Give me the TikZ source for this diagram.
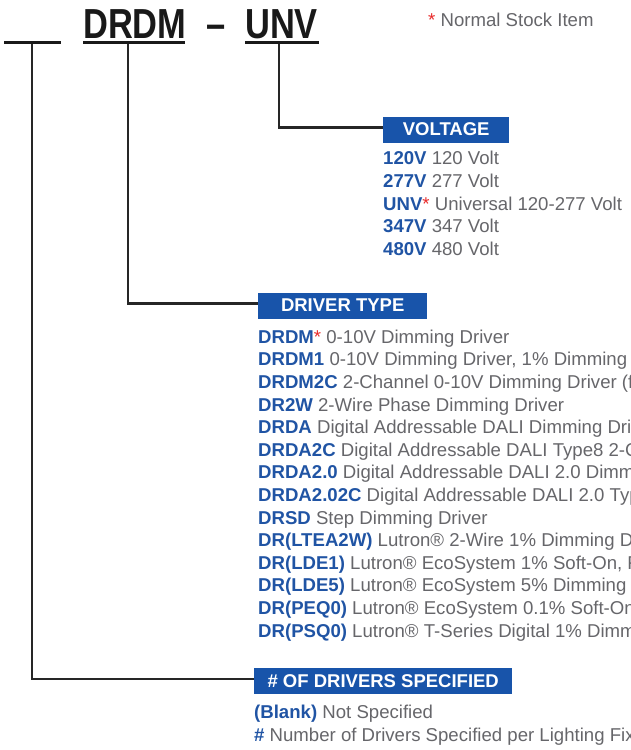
\documentclass[tikz,border=0pt]{standalone}
\usepackage{fontspec}
\setmainfont{Liberation Sans}
\usetikzlibrary{positioning}

\definecolor{hdrblue}{RGB}{24,84,170}
\definecolor{codeblue}{RGB}{32,84,164}
\definecolor{descgray}{RGB}{102,102,106}
\definecolor{stockred}{RGB}{232,40,40}
\newcommand{\code}[1]{\textcolor{codeblue}{\bfseries #1}}
\newcommand{\stock}{\textcolor{stockred}{*}}

\begin{document}
\begin{tikzpicture}[x=1pt, y=-1pt, font=\fontsize{18.6}{22.6}\selectfont]
    % Styles
    \tikzstyle{codetop} = [inner sep=0, anchor=base west, font=\fontsize{42}{42}\selectfont\bfseries, text=black!90]
    \tikzstyle{codebar} = [fill=black!90, inner sep=0, minimum height=3pt]
    \tikzstyle{conn} = [draw=black!85, line width=2.4pt]
    \tikzstyle{hdr} = [fill=hdrblue, text=white, font=\fontsize{18.5}{18.5}\selectfont\bfseries, minimum height=26pt, inner sep=0, anchor=west]
    \tikzstyle{optlist} = [inner sep=0, align=left, text=descgray]

    \useasboundingbox (0,0) rectangle (630,750);
    \clip (0,0) rectangle (630,750);

    % Catalog code
    \node [codetop] (drdm) at (83,38) {\scalebox{0.82}[1]{DRDM}};
    \node [codetop, anchor=base] (dash) at (216,38) {\scalebox{0.82}[1]{\textendash}};
    \node [codetop] (unv) at (245,38) {\scalebox{0.82}[1]{UNV}};
    \node [text=descgray, anchor=west, inner sep=0] (note) at (428,20) {\stock\ Normal Stock Item};

    % Underlines
    \node [codebar, minimum width=57pt] (blankbar) at (32.5,42) {};
    \node [codebar, minimum width=102pt] (drdmbar) at (134,42) {};
    \node [codebar, minimum width=74pt] (unvbar) at (281.5,42) {};

    % Headers
    \node [hdr, minimum width=126pt] (volthdr) at (383,129.5) {VOLTAGE};
    \node [hdr, minimum width=169pt] (drvhdr) at (258,305.5) {DRIVER TYPE};
    \node [hdr, minimum width=258pt] (numhdr) at (254,681) {\# OF DRIVERS SPECIFIED};

    % Options
    \node [optlist, below=8.5pt of volthdr.south west, anchor=north west] (voltlist) {%
        \code{120V} 120 Volt\\
        \code{277V} 277 Volt\\
        \code{UNV}\stock\ Universal 120-277 Volt\\
        \code{347V} 347 Volt\\
        \code{480V} 480 Volt};
    \node [optlist, below=11pt of drvhdr.south west, anchor=north west] (drvlist) {%
        \code{DRDM}\stock\ 0-10V Dimming Driver\\
        \code{DRDM1} 0-10V Dimming Driver, 1\% Dimming\\
        \code{DRDM2C} 2-Channel 0-10V Dimming Driver (f\\
        \code{DR2W} 2-Wire Phase Dimming Driver\\
        \code{DRDA} Digital Addressable DALI Dimming Dri\\
        \code{DRDA2C} Digital Addressable DALI Type8 2-C\\
        \code{DRDA2.0} Digital Addressable DALI 2.0 Dimm\\
        \code{DRDA2.02C} Digital Addressable DALI 2.0 Typ\\
        \code{DRSD} Step Dimming Driver\\
        \code{DR(LTEA2W)} Lutron® 2-Wire 1\% Dimming D\\
        \code{DR(LDE1)} Lutron® EcoSystem 1\% Soft-On, F\\
        \code{DR(LDE5)} Lutron® EcoSystem 5\% Dimming\\
        \code{DR(PEQ0)} Lutron® EcoSystem 0.1\% Soft-On\\
        \code{DR(PSQ0)} Lutron® T-Series Digital 1\% Dimm};
    \node [optlist, below=11pt of numhdr.south west, anchor=north west] (numlist) {%
        \code{(Blank)} Not Specified\\
        \code{\#} Number of Drivers Specified per Lighting Fix};

    % Connectors
    \draw [conn] ([xshift=-0.5pt]blankbar.south) |- ([yshift=2pt]numhdr.west);
    \draw [conn] ([xshift=-6pt]drdmbar.south) |- ([yshift=2pt]drvhdr.west);
    \draw [conn] ([xshift=-2.5pt]unvbar.south) |- ([yshift=2pt]volthdr.west);
\end{tikzpicture}
\end{document}
